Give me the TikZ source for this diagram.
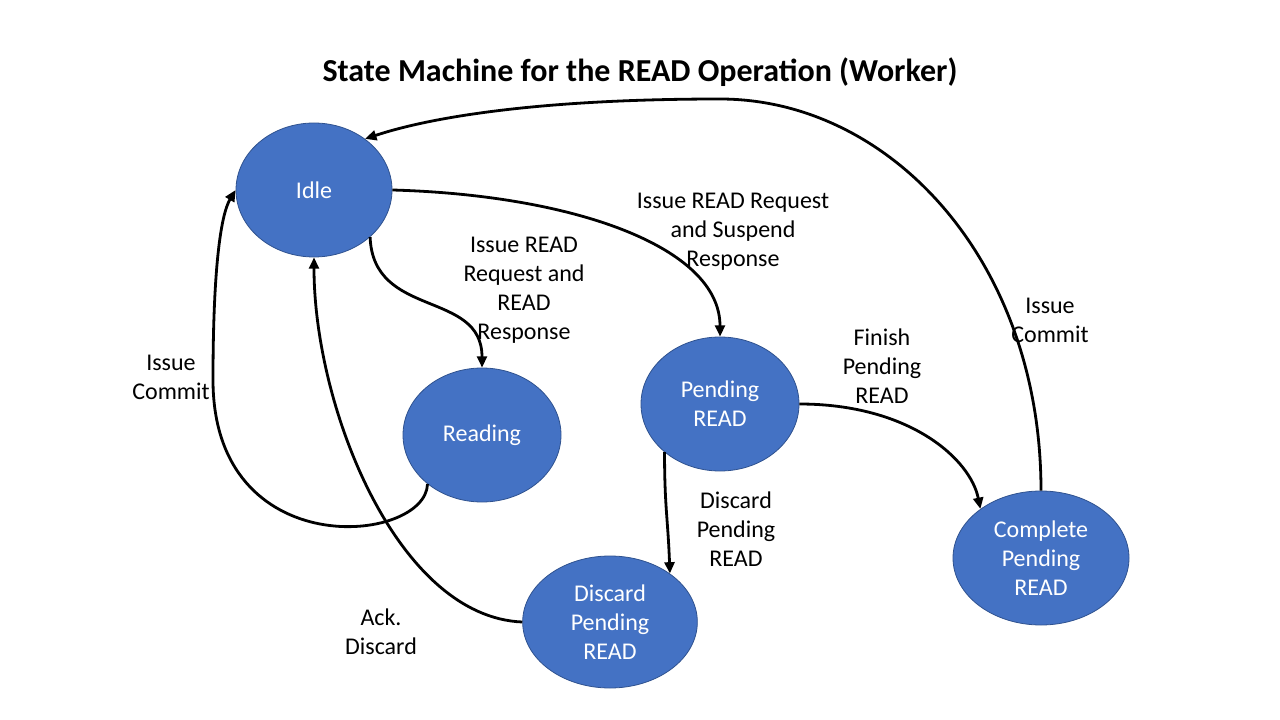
\documentclass[tikz,border=0pt]{standalone}
\usepackage{fontspec}
\setmainfont{Carlito}
\usetikzlibrary{shapes.geometric,arrows.meta}

\definecolor{stateblue}{HTML}{4472C4}
\definecolor{stateline}{HTML}{2F528F}

\begin{document}
\begin{tikzpicture}[x=0.75pt,y=-0.75pt,
  state/.style={ellipse,fill=stateblue,draw=stateline,line width=0.6pt,inner sep=0pt,
    text=white,align=center,font=\fontsize{18}{21.75}\selectfont},
  lbl/.style={align=center,font=\fontsize{18}{21.75}\selectfont},
  trans/.style={line width=2.1pt,-{Triangle[length=8.5pt,width=7.5pt]}}]

\useasboundingbox (0,0) rectangle (1280,720);

\node [font=\fontsize{24}{29}\selectfont\bfseries] (title) at (640,72) {State Machine for the READ Operation (Worker)};

% states
\node [state,minimum width=117pt,minimum height=100.5pt] (idle) at (314,190) {Idle};
\node [state,minimum width=118.5pt,minimum height=100.5pt] (reading) at (482,435) {Reading};
\node [state,minimum width=118.5pt,minimum height=100.5pt] (pending) at (720,404) {Pending\\READ};
\node [state,minimum width=131pt,minimum height=99pt] (discard) at (610,622) {Discard\\Pending\\READ};
\node [state,minimum width=132pt,minimum height=100.5pt] (complete) at (1041,558) {Complete\\Pending\\READ};

% transitions
\draw [trans] (idle.-40) .. controls +(3,82) and +(0,-78) .. (reading.north);
\draw [trans] (idle.east) .. controls +(180,5) and +(0,-90) .. (pending.north);
\draw [trans] (reading.222) .. controls +(-2,60) and +(0,185) .. (213,380)
  .. controls +(0,-110) and +(-15,25) .. (idle.west);
\draw [trans] (discard.west) .. controls +(-125,-5) and +(0,150) .. (idle.south);
\draw [trans] (pending.221) .. controls +(0,55) and +(-2,-55) .. (discard.39);
\draw [trans] (pending.east) .. controls +(110,0) and +(-10,-50) .. (complete.141);
\draw [trans] (complete.north) .. controls +(0,-230) and +(170,0) .. (720,99)
  .. controls +(-190,0) and +(60,-20) .. (idle.45);

% labels
\node [lbl] (l-read) at (524,290) {Issue READ\\Request and\\READ\\Response};
\node [lbl] (l-suspend) at (733,232) {Issue READ Request\\and Suspend\\Response};
\node [lbl] (l-commit1) at (171,377) {Issue\\Commit};
\node [lbl] (l-commit2) at (1050,320) {Issue\\Commit};
\node [lbl] (l-finish) at (882,366) {Finish\\Pending\\READ};
\node [lbl] (l-discard) at (736,529) {Discard\\Pending\\READ};
\node [lbl] (l-ack) at (381,632) {Ack.\\Discard};

\end{tikzpicture}
\end{document}
